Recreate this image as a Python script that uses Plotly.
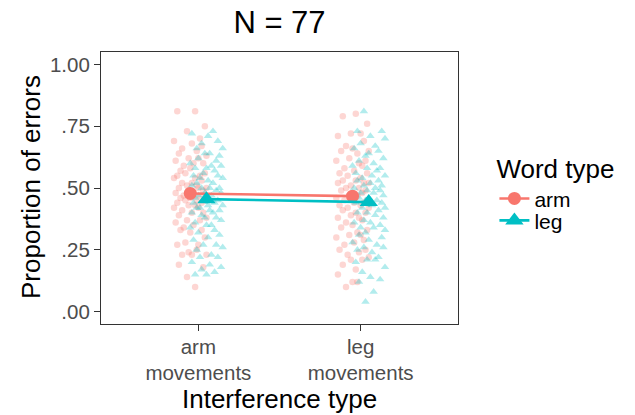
import plotly.graph_objects as go

# ---------------- data ----------------
interference_types = ["arm<br>movements", "leg<br>movements"]
word_types = ["arm", "leg"]
n_participants = 77

# per-participant proportions of errors
arm_words_arm_int = [0.81, 0.81, 0.75, 0.73, 0.70, 0.69, 0.68, 0.67, 0.66, 0.65,
                     0.64, 0.63, 0.62, 0.62, 0.61, 0.60, 0.60, 0.59, 0.58, 0.57,
                     0.56, 0.56, 0.55, 0.55, 0.54, 0.54, 0.53, 0.52, 0.52, 0.51,
                     0.51, 0.50, 0.50, 0.50, 0.49, 0.49, 0.48, 0.48, 0.47, 0.47,
                     0.46, 0.46, 0.45, 0.45, 0.45, 0.44, 0.44, 0.43, 0.43, 0.42,
                     0.42, 0.41, 0.40, 0.40, 0.39, 0.38, 0.37, 0.37, 0.36, 0.35,
                     0.34, 0.33, 0.33, 0.32, 0.30, 0.28, 0.27, 0.27, 0.25, 0.24,
                     0.23, 0.23, 0.23, 0.19, 0.18, 0.14, 0.10]
leg_words_arm_int = [0.73, 0.72, 0.71, 0.69, 0.68, 0.66, 0.66, 0.64, 0.64, 0.63,
                     0.62, 0.61, 0.60, 0.59, 0.59, 0.58, 0.58, 0.57, 0.56, 0.55,
                     0.55, 0.54, 0.54, 0.53, 0.52, 0.52, 0.51, 0.50, 0.50, 0.50,
                     0.49, 0.49, 0.48, 0.48, 0.47, 0.47, 0.46, 0.46, 0.45, 0.45,
                     0.44, 0.44, 0.43, 0.43, 0.42, 0.42, 0.41, 0.41, 0.40, 0.40,
                     0.39, 0.38, 0.38, 0.37, 0.36, 0.35, 0.35, 0.34, 0.33, 0.32,
                     0.31, 0.30, 0.29, 0.27, 0.27, 0.26, 0.25, 0.23, 0.22, 0.22,
                     0.20, 0.19, 0.18, 0.17, 0.16, 0.15, 0.15]
arm_words_leg_int = [0.80, 0.79, 0.76, 0.72, 0.72, 0.71, 0.69, 0.67, 0.66, 0.65,
                     0.65, 0.64, 0.62, 0.61, 0.61, 0.60, 0.59, 0.58, 0.57, 0.56,
                     0.56, 0.55, 0.54, 0.53, 0.53, 0.52, 0.52, 0.52, 0.51, 0.50,
                     0.50, 0.49, 0.49, 0.48, 0.48, 0.47, 0.47, 0.46, 0.45, 0.45,
                     0.44, 0.44, 0.43, 0.43, 0.42, 0.42, 0.41, 0.40, 0.40, 0.39,
                     0.38, 0.38, 0.37, 0.36, 0.35, 0.34, 0.33, 0.32, 0.31, 0.31,
                     0.30, 0.29, 0.28, 0.27, 0.25, 0.25, 0.24, 0.23, 0.22, 0.21,
                     0.21, 0.19, 0.17, 0.15, 0.12, 0.12, 0.10]
leg_words_leg_int = [0.81, 0.73, 0.73, 0.71, 0.70, 0.68, 0.67, 0.66, 0.65, 0.64,
                     0.63, 0.62, 0.61, 0.60, 0.59, 0.58, 0.58, 0.57, 0.56, 0.55,
                     0.55, 0.54, 0.53, 0.53, 0.52, 0.51, 0.51, 0.50, 0.50, 0.49,
                     0.49, 0.48, 0.48, 0.47, 0.47, 0.46, 0.46, 0.45, 0.45, 0.44,
                     0.44, 0.43, 0.42, 0.42, 0.41, 0.40, 0.40, 0.39, 0.38, 0.37,
                     0.36, 0.36, 0.35, 0.34, 0.34, 0.33, 0.32, 0.31, 0.30, 0.29,
                     0.28, 0.27, 0.26, 0.26, 0.25, 0.24, 0.22, 0.21, 0.21, 0.20,
                     0.18, 0.16, 0.14, 0.13, 0.12, 0.08, 0.04]

# horizontal jitter of each participant (hundredths of a category unit)
jitter_a = [-8, 3, 9, -2, 6, -10, 1, 7, -5, 4, -7, 10, -1, 5, -9, 2, 8, -4, 0, -6,
            9, -3, 6, -8, 3, -10, 7, 1, -5, 4, -2, 10, -7, 5, -1, 8, -9, 2, -4, 6,
            -6, 0, 9, -3, 4, -8, 7, -1, 3, -10, 5, -5, 1, 8, -7, 10, -2, 6, -9, 2,
            -4, 7, -6, 0, 9, -3, 5, -8, 4, -1, 10, -5, 1, -7, 8, -2, 3]
jitter_b = [4, -9, 1, 7, -3, 10, -6, 2, -1, 8, -5, 6, -10, 3, 9, -7, 0, 5, -2, -8,
            7, -4, 10, 1, -6, 4, -9, 8, -3, 2, -10, 6, -1, 9, -5, 3, -7, 0, 7, -2,
            5, -8, 1, 10, -4, -6, 8, 2, -9, 4, -3, 6, -1, 9, -7, 3, 0, -10, 5, -5,
            8, 1, -8, 6, -2, 10, -6, 3, -4, 7, -9, 2, 9, -3, 5, -7, 0]
jitter_c = [2, -6, 9, -1, 5, -9, 7, -4, 0, 10, -7, 3, -2, 8, -10, 4, 6, -5, 1, -8,
            9, -3, 5, -6, 2, 10, -9, 7, -1, 4, -4, 8, -7, 0, 6, -2, 3, -10, 9, -5,
            1, 7, -8, 5, -3, 10, -6, 2, 8, -1, -9, 4, 6, -4, 0, -7, 9, 3, -2, 5,
            -10, 7, 1, -5, 8, -8, 4, -3, 10, -1, 6, -6, 2, -9, 3, 0, -4]
jitter_d = [-3, 8, -7, 1, 10, -5, 4, -9, 6, 0, -2, 9, -6, 3, -10, 7, -1, 5, -8, 2,
            10, -4, 6, -7, 1, 8, -3, -9, 4, -1, 7, -5, 3, -10, 9, 0, -6, 5, -2, 8,
            -8, 2, 10, -4, 6, -1, -7, 4, 9, -3, 1, -9, 7, -5, 3, 10, -2, -6, 8, 0,
            -10, 5, -3, 9, -7, 2, 6, -1, 4, -8, 10, -4, 1, 7, -6, 3, -2]

# condition means and standard errors
mean_arm_words = [0.478, 0.467]
mean_leg_words = [0.455, 0.443]
se_arm_words = [0.017, 0.017]
se_leg_words = [0.017, 0.017]

# ---------------- styling ----------------
RED = "#F8766D"
TEAL = "#00BFC4"
DODGE = 0.05
JIT = 0.01
FONT = "Liberation Sans, Arial, sans-serif"

fig = go.Figure()

groups = [
    (1, -DODGE, arm_words_arm_int, jitter_a, RED, "circle", 6.5),
    (1, DODGE, leg_words_arm_int, jitter_b, TEAL, "triangle-up", 7.5),
    (2, -DODGE, arm_words_leg_int, jitter_c, RED, "circle", 6.5),
    (2, DODGE, leg_words_leg_int, jitter_d, TEAL, "triangle-up", 7.5),
]
for pos, off, vals, jit, col, sym, sz in groups:
    fig.add_trace(go.Scatter(
        x=[pos + off + j * JIT for j in jit], y=vals,
        mode="markers",
        marker=dict(color=col, symbol=sym, size=sz, opacity=0.3, line=dict(width=0)),
        showlegend=False, hoverinfo="skip"))

for name, means, ses, off, col, sym, sz, leg in [
    ("arm", mean_arm_words, se_arm_words, -DODGE, RED, "circle", 13, "legend"),
    ("leg", mean_leg_words, se_leg_words, DODGE, TEAL, "triangle-up", 16, "legend2"),
]:
    fig.add_trace(go.Scatter(
        x=[1 + off, 2 + off], y=means,
        mode="lines+markers",
        name=name, legend=leg,
        line=dict(color=col, width=2.6),
        marker=dict(color=col, symbol=sym, size=sz),
        error_y=dict(type="data", array=ses, visible=True, color=col, thickness=2.6, width=0),
        hoverinfo="skip"))

H = 407
fig.update_layout(
    width=627, height=H,
    margin=dict(l=93, r=177, t=44, b=91),
    paper_bgcolor="white", plot_bgcolor="white",
    font=dict(family=FONT, color="black"),
    title=dict(text="N = 77", x=0.5, xref="paper", xanchor="center",
               y=1 - 14 / H, yref="container", yanchor="middle",
               font=dict(size=31, color="black")),
    legend=dict(
        title=dict(text="Word type", font=dict(size=26, color="black")),
        font=dict(size=21, color="black"),
        x=0.102, xref="container" if False else "paper", xanchor="left",
        y=0.66, yanchor="top",
        bgcolor="rgba(0,0,0,0)"),
    legend2=dict(
        font=dict(size=21, color="black"),
        x=0.102, xanchor="left",
        y=0.455, yanchor="top",
        bgcolor="rgba(0,0,0,0)"),
    showlegend=True,
)
fig.layout.legend.x = 1.102
fig.layout.legend2.x = 1.102

fig.update_xaxes(
    range=[0.4, 2.6], tickmode="array", tickvals=[1, 2], ticktext=interference_types,
    showgrid=False, zeroline=False,
    showline=True, mirror=True, linecolor="#333333", linewidth=1.2,
    ticks="outside", ticklen=6, tickwidth=1.2, tickcolor="#333333",
    tickfont=dict(size=20.5, color="#4D4D4D", family=FONT),
    ticklabelstandoff=-2,
)
fig.update_yaxes(
    range=[-0.05, 1.05], tickmode="array",
    tickvals=[0, 0.25, 0.5, 0.75, 1.0],
    ticktext=[".00", ".25", ".50", ".75", "1.00"],
    showgrid=False, zeroline=False,
    showline=True, mirror=True, linecolor="#333333", linewidth=1.2,
    ticks="outside", ticklen=6, tickwidth=1.2, tickcolor="#333333",
    tickfont=dict(size=20.5, color="#4D4D4D", family=FONT),
)

fig.add_annotation(text="Interference type", xref="paper", yref="paper",
                   x=0.5, y=(316 - 391) / 272, xanchor="center", yanchor="middle",
                   showarrow=False, font=dict(size=26, color="black", family=FONT))
fig.add_annotation(text="Proportion of errors", xref="paper", yref="paper",
                   x=(23 - 93) / 357, y=(316 - 179) / 272, xanchor="center", yanchor="middle",
                   textangle=-90, showarrow=False,
                   font=dict(size=26, color="black", family=FONT))

fig.write_html("out.html")
